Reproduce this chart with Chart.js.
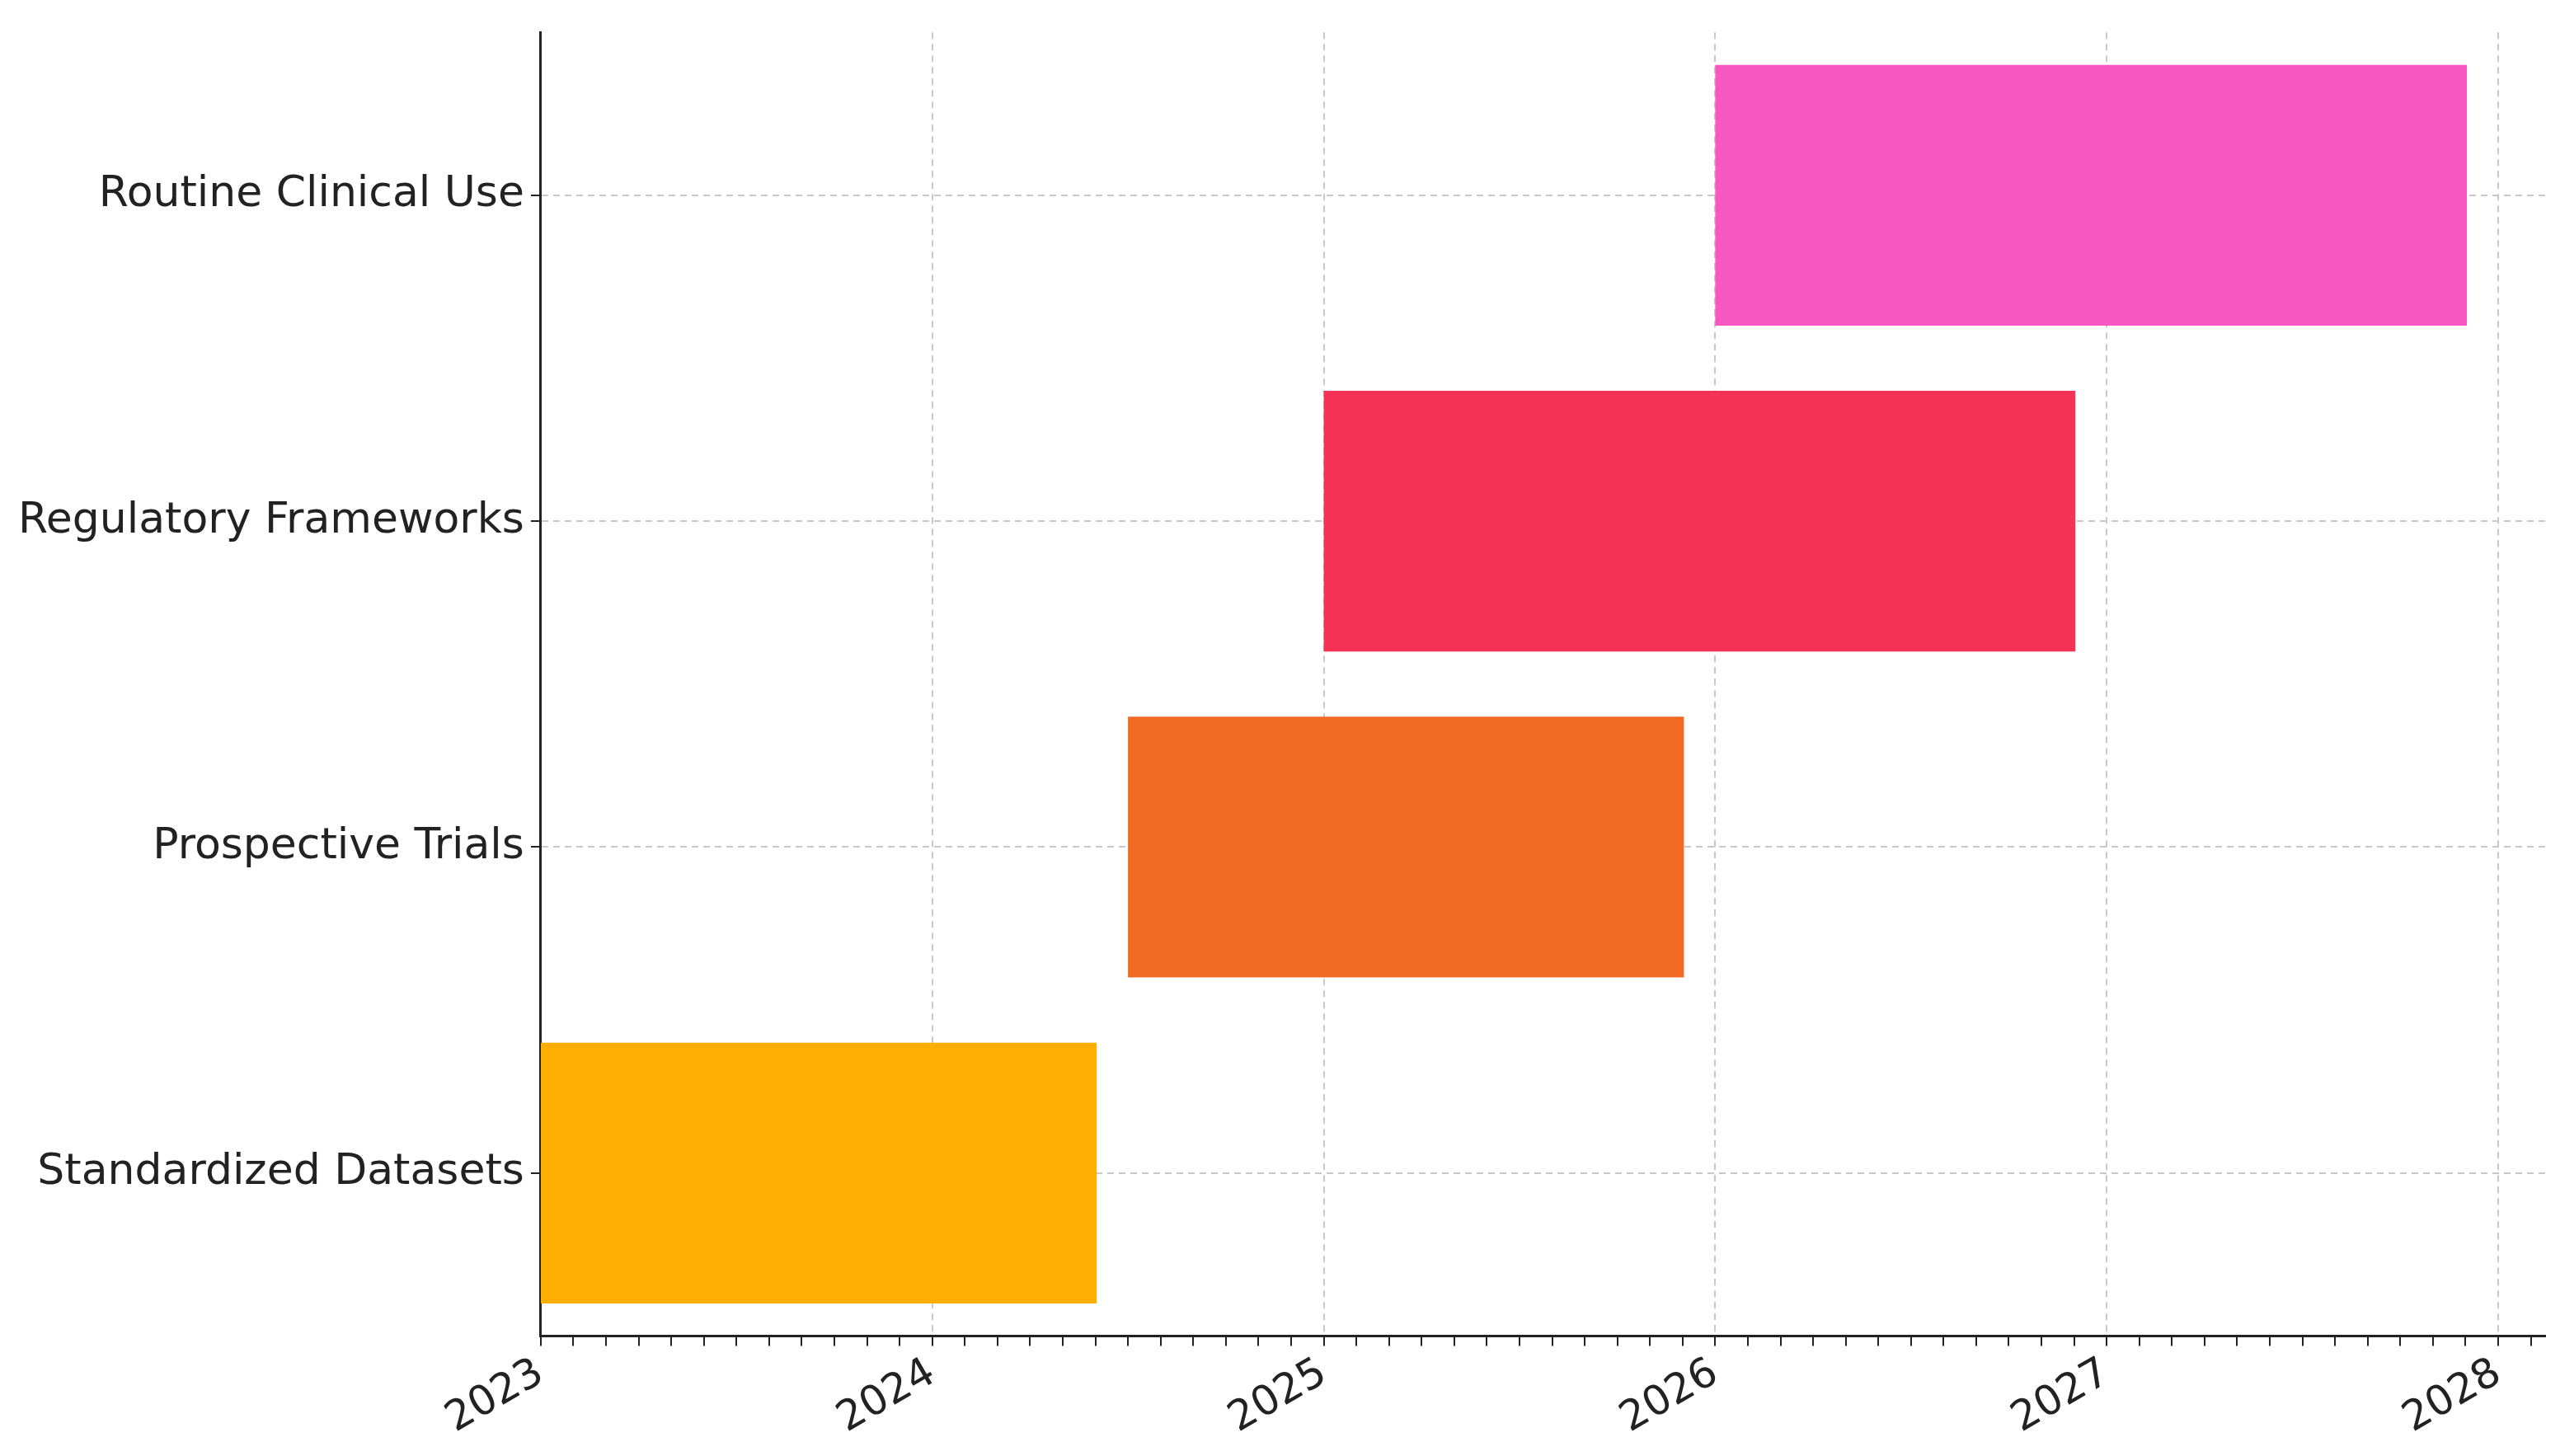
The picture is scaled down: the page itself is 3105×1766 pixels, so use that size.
<!DOCTYPE html>
<html>
<head>
<meta charset="utf-8">
<script src="https://cdn.jsdelivr.net/npm/chart.js@4"></script>
<style>
  html, body { margin: 0; padding: 0; background: #fff; }
  #wrap { width: 3105px; height: 1766px; }
</style>
</head>
<body>
<div id="wrap"><canvas id="grafic"></canvas></div>
<script>
// phases, top to bottom
const phases = ["Routine Clinical Use", "Regulatory Frameworks", "Prospective Trials", "Standardized Datasets"];
// start / end as decimal years
const phaseStart = [2026.0, 2025.0, 2024.5, 2023.0];
const phaseEnd = [2027.92, 2026.92, 2025.92, 2024.42];
const phaseColors = ["#F857C1", "#F43255", "#F26A21", "#FFAE00"];
const yearTicks = [2023, 2024, 2025, 2026, 2027, 2028];

const isYear = (v) => Math.abs(v - Math.round(v)) < 1e-6;

const ctx = document.getElementById("grafic").getContext("2d");
new Chart(ctx, {
  type: "bar",
  data: {
    labels: phases,
    datasets: [{
      data: phases.map((p, i) => [phaseStart[i], phaseEnd[i]]),
      backgroundColor: phaseColors,
      barPercentage: 0.8,
      categoryPercentage: 1.0,
    }],
  },
  options: {
    indexAxis: "y",
    responsive: true,
    maintainAspectRatio: false,
    animation: false,
    devicePixelRatio: 1,
    layout: { padding: { top: 20, right: 18, bottom: 10, left: 14 } },
    plugins: { legend: { display: false }, tooltip: { enabled: false } },
    scales: {
      x: {
        type: "linear",
        min: 2023,
        max: 2028.12,
        afterBuildTicks: (axis) => {
          const t = [];
          for (let m = 0; m <= 61; m++) t.push({ value: 2023 + m / 12 });
          axis.ticks = t;
        },
        ticks: {
          autoSkip: false,
          minRotation: 30,
          maxRotation: 30,
          color: "#222",
          font: { family: "DejaVu Sans", size: 50 },
          padding: 4,
          callback: (v) => isYear(v) && yearTicks.includes(Math.round(v)) ? String(Math.round(v)) : "",
        },
        grid: {
          color: (c) => isYear(c.tick.value) ? "#c8c8c8" : "rgba(0,0,0,0)",
          lineWidth: 2,
          tickColor: "#222",
          tickLength: 12,
        },
        border: { display: true, color: "#222", width: 3, dash: [8, 6] },
      },
      y: {
        offset: true,
        grid: { offset: false, color: "#c8c8c8", lineWidth: 2, tickColor: "#222", tickLength: 12 },
        ticks: { color: "#222", font: { family: "DejaVu Sans", size: 52 }, padding: 8 },
        border: { display: true, color: "#222", width: 3, dash: [8, 6] },
      },
    },
  },
});
</script>
</body>
</html>
